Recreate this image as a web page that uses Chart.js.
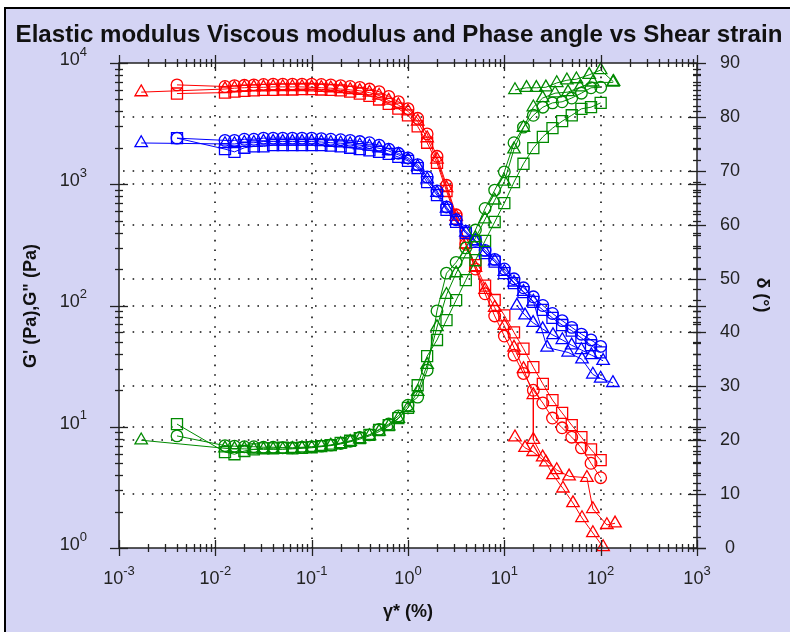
<!DOCTYPE html>
<html>
<head>
<meta charset="utf-8">
<script src="https://cdn.jsdelivr.net/npm/chart.js@4.4.0/dist/chart.umd.min.js"></script>
<style>
  html, body { margin: 0; padding: 0; background: #fff; }
</style>
</head>
<body>
<canvas id="myChart" width="790" height="632"></canvas>
<script>
// strain values (%)
const strainA = [0.004, 0.0126, 0.0158, 0.02, 0.0251, 0.0316, 0.0398, 0.0501, 0.0631, 0.0794, 0.1,
  0.126, 0.158, 0.2, 0.251, 0.316, 0.398, 0.501, 0.631, 0.794, 1,
  1.26, 1.58, 2, 2.51, 3.16, 3.98, 5.01, 6.31, 7.94, 10,
  12.6, 15.8, 20, 25.1, 31.6, 39.8, 50.1, 63.1, 79.4, 100];
const strainB = [0.0017, 0.0126, 0.0158, 0.02, 0.0251, 0.0316, 0.0398, 0.0501, 0.0631, 0.0794, 0.1,
  0.126, 0.158, 0.2, 0.251, 0.316, 0.398, 0.501, 0.631, 0.794, 1,
  1.26, 1.58, 2, 2.51, 3.16, 3.98, 5.01, 6.31, 7.94, 10,
  12.6, 15.8, 20];

// G' (Pa)
const gpCircle = [6600, 6400, 6500, 6550, 6600, 6650, 6700, 6700, 6700, 6700, 6700,
  6650, 6600, 6500, 6400, 6300, 6100, 5800, 5300, 4800, 4200,
  3500, 2600, 1700, 980, 560, 320, 200, 125, 82, 56,
  39, 27.5, 20, 15.7, 11.8, 9.8, 8.2, 6.7, 5.0, 3.8];
const gpSquare = [5600, 5700, 5800, 5900, 5950, 6000, 6000, 6050, 6050, 6100, 6100,
  6050, 6000, 5950, 5800, 5600, 5350, 5000, 4600, 4200, 3700,
  3000, 2200, 1500, 880, 520, 330, 215, 146, 111, 83,
  60, 44, 31, 22.6, 16.6, 13, 10.3, 8.2, 6.5, 5.3];
const gpTri = [5750, 6100, 6200, 6250, 6300, 6300, 6350, 6350, 6350, 6350, 6300,
  6250, 6200, 6100, 6000, 5900, 5700, 5400, 4900, 4500, 4000,
  3300, 2400, 1600, 930, 540, 320, 205, 135, 96, 68,
  45, 30, 18.3];
const gpTriTailX = [20, 25, 35, 47, 72, 83, 116, 141];
const gpTriTail = [7.8, 5.6, 4.4, 3.9, 3.8, 2.1, 1.55, 1.6];
const gpTri2X = [12.9, 16.4, 19.9, 27, 32, 40.6, 51.6, 64, 83, 106];
const gpTri2 = [8.2, 6.7, 6.2, 5.1, 4.0, 3.1, 2.35, 1.77, 1.33, 1.02];

// G" (Pa)
const gppCircle = [2400, 2300, 2300, 2350, 2350, 2400, 2400, 2400, 2400, 2400, 2400,
  2380, 2350, 2330, 2300, 2250, 2200, 2100, 1950, 1800, 1650,
  1450, 1150, 880, 650, 510, 410, 345, 285, 240, 200,
  166, 140, 118, 100, 86, 75, 66, 58, 52, 46];
const gppSquare = [2400, 1950, 1850, 2000, 2050, 2050, 2100, 2100, 2100, 2100, 2100,
  2100, 2080, 2050, 2000, 1950, 1900, 1850, 1780, 1680, 1560,
  1360, 1040, 815, 615, 490, 395, 335, 270, 230, 185,
  153, 129, 107, 92, 79, 69, 62, 54, 47, 41];
const gppTri = [2190, 2150, 2150, 2200, 2200, 2250, 2250, 2250, 2250, 2250, 2250,
  2230, 2200, 2180, 2150, 2100, 2050, 1980, 1880, 1750, 1600,
  1400, 1100, 850, 630, 500, 400, 340, 275, 232, 190,
  155, 130, 108];
const gppTriTailX = [27.8, 46, 64, 83, 100, 134];
const gppTriTail = [45, 41, 36, 27, 25, 23];
const gppTri2X = [13.5, 16.4, 19.9, 25, 32, 40, 50, 63, 80, 106];
const gppTri2 = [100, 83, 72, 64, 57, 52, 47, 43, 39, 35];

// phase angle (deg)
const deltaCircle = [20.8, 19.0, 18.9, 18.8, 18.8, 18.7, 18.7, 18.6, 18.6, 18.7, 18.8,
  18.9, 19.1, 19.4, 19.8, 20.5, 21.0, 22.0, 23.0, 24.5, 26.5,
  28.0, 33, 44, 51, 53, 55.7, 59, 63, 66.4, 69.8,
  75.2, 78.1, 80.3, 81.8, 82.6, 82.8, 83.5, 84.4, 85.4, 85.5];
const deltaSquare = [23, 17.8, 17.4, 18.0, 18.3, 18.5, 18.5, 18.6, 18.5, 18.6, 18.7,
  18.9, 19.1, 19.5, 19.9, 20.4, 21.0, 21.9, 22.8, 24.1, 26.0,
  30.2, 35.6, 38.6, 42.3, 46, 49.7, 53.4, 57, 60.5, 64,
  67.9, 71.3, 74.2, 76.3, 77.9, 79.2, 80.3, 81.5, 81.8, 82.6];
const deltaTri = [20.0, 18.5, 18.4, 18.4, 18.3, 18.3, 18.3, 18.3, 18.4, 18.5, 18.6,
  18.8, 19.0, 19.3, 19.7, 20.2, 20.8, 21.6, 22.6, 24.0, 26.0,
  29.0, 34, 41, 47, 51, 54.5, 57.5, 61, 64.5, 68,
  74, 78, 81.8];
const deltaTriTailX = [25, 33.6, 45.8, 61, 83, 134];
const deltaTriTail = [83.5, 84.4, 84.6, 85.5, 86.4, 86.4];
const deltaTri2X = [12.9, 17, 21.5, 27, 35, 44.6, 56, 76, 100, 136];
const deltaTri2 = [85, 85.4, 85.4, 85.5, 86.3, 86.8, 87, 87.8, 88.7, 86.5];

const xDecades = [-3, -2, -1, 0, 1, 2, 3];
const yDecades = [0, 1, 2, 3, 4];
const y2Ticks = [0, 10, 20, 30, 40, 50, 60, 70, 80, 90];

const RED = '#ff0000', BLUE = '#0000ff', GREEN = '#008a00';

function pts(xs, ys) {
  return xs.map((x, i) => ({ x: x, y: ys[i] }));
}

function serie(data, color, style, axis) {
  let r = 5.8;
  if (style == 'rect') r = 7.8;
  if (style == 'triangle') r = 7.2;
  return {
    data: data,
    borderColor: color,
    borderWidth: 1,
    pointStyle: style,
    pointRadius: r,
    pointBorderColor: color,
    pointBorderWidth: 1.3,
    pointBackgroundColor: 'rgba(0,0,0,0)',
    yAxisID: axis,
    fill: false,
    tension: 0,
    clip: false
  };
}

const datasets = [
  serie(pts(strainA, deltaCircle), GREEN, 'circle', 'y2'),
  serie(pts(strainA, deltaSquare), GREEN, 'rect', 'y2'),
  serie(pts(strainB, deltaTri).concat(pts(deltaTriTailX, deltaTriTail)), GREEN, 'triangle', 'y2'),
  serie(pts(deltaTri2X, deltaTri2), GREEN, 'triangle', 'y2'),
  serie(pts(strainA, gppCircle), BLUE, 'circle', 'y'),
  serie(pts(strainA, gppSquare), BLUE, 'rect', 'y'),
  serie(pts(strainB, gppTri).concat(pts(gppTriTailX, gppTriTail)), BLUE, 'triangle', 'y'),
  serie(pts(gppTri2X, gppTri2), BLUE, 'triangle', 'y'),
  serie(pts(strainA, gpCircle), RED, 'circle', 'y'),
  serie(pts(strainA, gpSquare), RED, 'rect', 'y'),
  serie(pts(strainB, gpTri).concat(pts(gpTriTailX, gpTriTail)), RED, 'triangle', 'y'),
  serie(pts(gpTri2X, gpTri2), RED, 'triangle', 'y')
];

const FONT = '"Liberation Sans", Arial, sans-serif';

// 10 with exponent
function drawPow(ctx, exp, x, y, align) {
  ctx.font = '18px ' + FONT;
  const wb = ctx.measureText('10').width;
  ctx.font = '13px ' + FONT;
  const we = ctx.measureText(String(exp)).width;
  let x0 = x - (wb + we) / 2;
  if (align == 'right') x0 = x - wb - we;
  ctx.textAlign = 'left';
  ctx.textBaseline = 'middle';
  ctx.font = '18px ' + FONT;
  ctx.fillText('10', x0, y);
  ctx.font = '13px ' + FONT;
  ctx.fillText(String(exp), x0 + wb, y - 8);
}

function line(ctx, x1, y1, x2, y2) {
  ctx.beginPath();
  ctx.moveTo(x1, y1);
  ctx.lineTo(x2, y2);
  ctx.stroke();
}

const axisPlugin = {
  id: 'axisPlugin',
  beforeDraw(chart) {
    const ctx = chart.ctx;
    const a = chart.chartArea;
    const sx = chart.scales.x, sy = chart.scales.y, sy2 = chart.scales.y2;
    ctx.save();
    ctx.fillStyle = '#fff';
    ctx.fillRect(0, 0, chart.width, chart.height);
    ctx.fillStyle = '#d4d4f4';
    ctx.fillRect(5, 8, chart.width - 5, chart.height - 8);
    ctx.strokeStyle = '#000';
    ctx.lineWidth = 2;
    ctx.beginPath();
    ctx.moveTo(5, chart.height);
    ctx.lineTo(5, 8);
    ctx.lineTo(chart.width, 8);
    ctx.stroke();
    ctx.fillStyle = '#fff';
    ctx.fillRect(a.left, a.top, a.right - a.left, a.bottom - a.top);

    // dotted grid
    ctx.strokeStyle = '#111';
    ctx.lineWidth = 1.6;
    ctx.setLineDash([1.6, 8]);
    xDecades.slice(1, -1).forEach(d => {
      const px = Math.round(sx.getPixelForValue(Math.pow(10, d)));
      line(ctx, px, a.top + 4, px, a.bottom);
    });
    yDecades.slice(1, -1).forEach(d => {
      const py = Math.round(sy.getPixelForValue(Math.pow(10, d)));
      line(ctx, a.left + 4, py, a.right, py);
    });
    y2Ticks.slice(1, -1).forEach(v => {
      const py = Math.round(sy2.getPixelForValue(v));
      line(ctx, a.left + 4, py, a.right, py);
    });
    ctx.restore();
  },
  afterDatasetsDraw(chart) {
    const ctx = chart.ctx;
    const a = chart.chartArea;
    const sx = chart.scales.x, sy = chart.scales.y, sy2 = chart.scales.y2;
    ctx.save();
    ctx.strokeStyle = '#222';
    ctx.lineWidth = 1.5;
    ctx.strokeRect(a.left, a.top, a.right - a.left, a.bottom - a.top);

    ctx.lineWidth = 1.3;
    // log ticks on x (bottom and top)
    for (let d = -3; d < 3; d++) {
      for (let m = 1; m < 10; m++) {
        const px = Math.round(sx.getPixelForValue(m * Math.pow(10, d))) + 0.5;
        const len = m == 1 ? 8 : 4;
        line(ctx, px, a.bottom - len, px, a.bottom + len);
        line(ctx, px, a.top - len, px, a.top + len);
      }
    }
    let px = Math.round(sx.getPixelForValue(1000)) + 0.5;
    line(ctx, px, a.bottom - 8, px, a.bottom + 8);
    line(ctx, px, a.top - 8, px, a.top + 8);

    // log ticks on y (left and right)
    for (let d = 0; d < 4; d++) {
      for (let m = 1; m < 10; m++) {
        const py = Math.round(sy.getPixelForValue(m * Math.pow(10, d))) + 0.5;
        const len = m == 1 ? 9 : 4;
        line(ctx, a.left - len, py, a.left + len, py);
        line(ctx, a.right - len, py, a.right + len, py);
      }
    }
    let py = Math.round(sy.getPixelForValue(10000)) + 0.5;
    line(ctx, a.left - 9, py, a.left + 9, py);

    // linear ticks on right
    for (let v = 0; v <= 90; v += 2) {
      const p = Math.round(sy2.getPixelForValue(v)) + 0.5;
      const len = v % 10 == 0 ? 9 : 4;
      line(ctx, a.right - len, p, a.right + len, p);
    }

    // tick labels
    ctx.fillStyle = '#222';
    xDecades.forEach(d => {
      drawPow(ctx, d, sx.getPixelForValue(Math.pow(10, d)), a.bottom + 31, 'center');
    });
    yDecades.forEach(d => {
      drawPow(ctx, d, 87, sy.getPixelForValue(Math.pow(10, d)) - 3, 'right');
    });
    ctx.font = '18px ' + FONT;
    ctx.textAlign = 'center';
    ctx.textBaseline = 'middle';
    y2Ticks.forEach(v => {
      ctx.fillText(String(v), 730, sy2.getPixelForValue(v));
    });

    // titles
    ctx.fillStyle = '#111';
    ctx.font = 'bold 18px ' + FONT;
    ctx.textAlign = 'center';
    ctx.fillText('\u03b3* (%)', 408, 612);
    ctx.save();
    ctx.translate(31, 306);
    ctx.rotate(-Math.PI / 2);
    ctx.fillText('G\' (Pa),G" (Pa)', 0, 0);
    ctx.restore();
    ctx.save();
    ctx.translate(762, 295);
    ctx.rotate(Math.PI / 2);
    ctx.fillText('\u03b4 (\u00b0)', 0, 0);
    ctx.restore();

    const title = 'Elastic modulus Viscous modulus and Phase angle vs Shear strain';
    ctx.font = 'bold 20px ' + FONT;
    const w = ctx.measureText(title).width;
    const size = 20 * 768 / w;
    ctx.font = 'bold ' + size.toFixed(1) + 'px ' + FONT;
    ctx.fillText(title, 399, 35);
    ctx.restore();
  }
};

const ctx = document.getElementById('myChart').getContext('2d');
const myChart = new Chart(ctx, {
  type: 'line',
  data: { datasets: datasets },
  options: {
    responsive: false,
    animation: false,
    layout: { padding: { left: 119, right: 93, top: 63, bottom: 84 } },
    plugins: {
      legend: { display: false },
      title: { display: false },
      tooltip: { enabled: false }
    },
    scales: {
      x: { type: 'logarithmic', min: 0.001, max: 1000, display: false },
      y: { type: 'logarithmic', min: 1, max: 10000, display: false, position: 'left' },
      y2: { type: 'linear', min: 0, max: 90, display: false, position: 'right' }
    }
  },
  plugins: [axisPlugin]
});
</script>
</body>
</html>
